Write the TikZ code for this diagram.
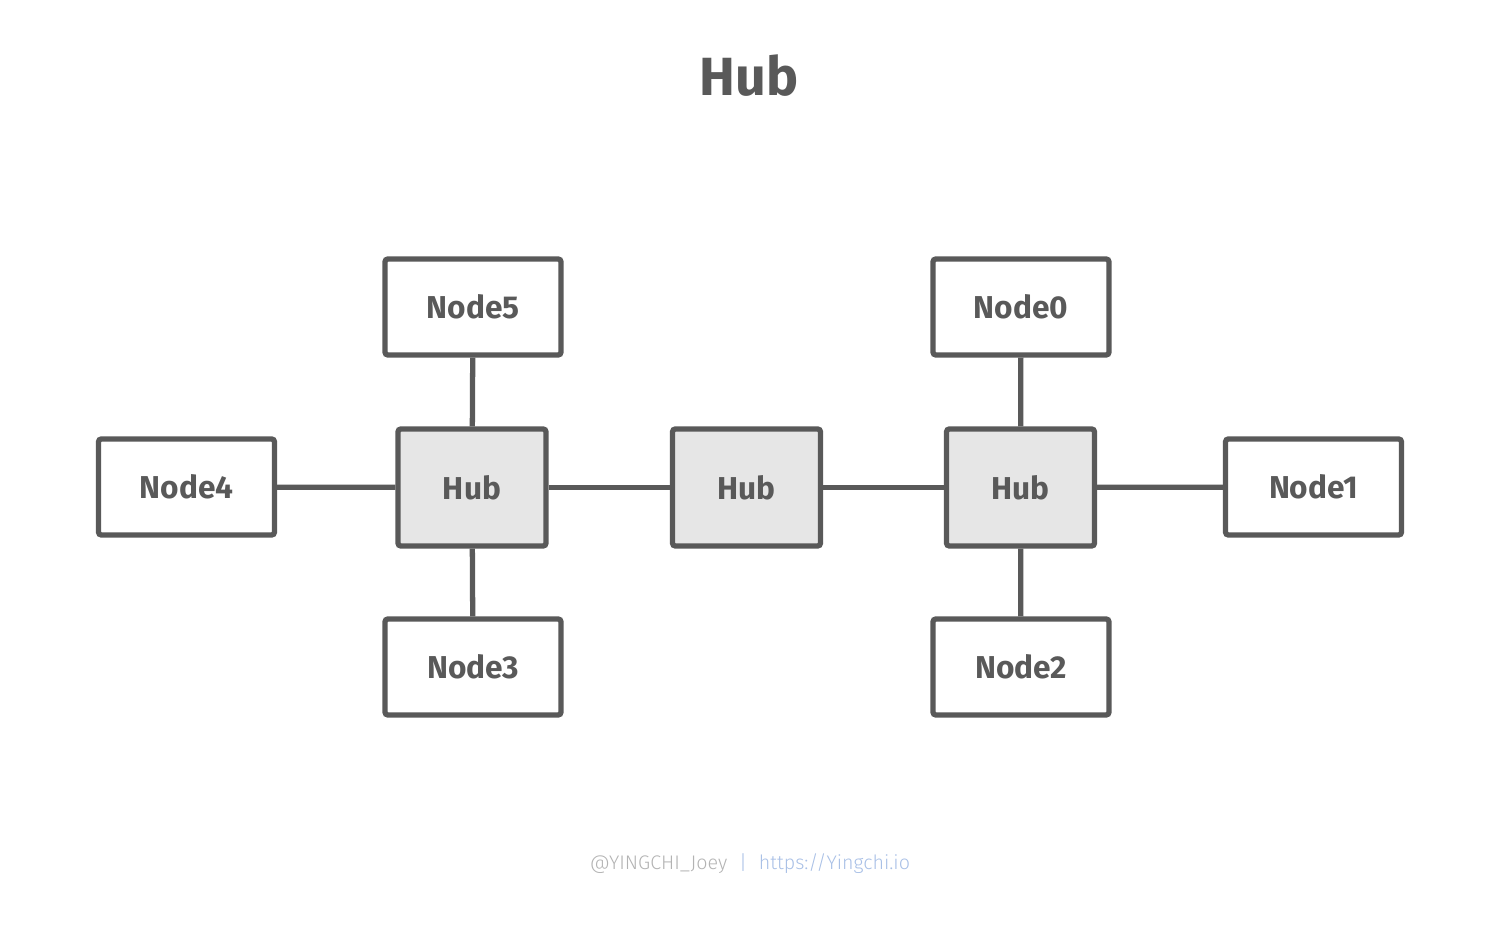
\documentclass[tikz,border=0pt]{standalone}
\usepackage{fontspec}
\setmainfont{Fira Sans}
\newfontfamily\credfont{Fira Sans Light}
\definecolor{boxgray}{HTML}{595959}
\definecolor{hubfill}{HTML}{E6E6E6}
\definecolor{credgray}{HTML}{B3B3B3}
\definecolor{credblue}{HTML}{A9C0E6}
\begin{document}
\begin{tikzpicture}[
        nodebox/.style={draw=boxgray, line width=1.5pt, rounded corners=0.8pt, fill=white,
            minimum width=1.76cm, minimum height=0.96cm, text=boxgray, font=\fontsize{9}{11}\selectfont\bfseries},
        hubbox/.style={nodebox, fill=hubfill, minimum width=1.48cm, minimum height=1.17cm},
        link/.style={draw=boxgray, line width=1.5pt}
    ]
        \useasboundingbox (0,0) rectangle (15,9.38);

        \node[text=boxgray, font=\fontsize{15.3}{18}\selectfont\bfseries] (title) at (7.49,8.62) {Hub};

        \node[hubbox] (hubL) at (4.72,4.505) {Hub};
        \node[hubbox] (hubM) at (7.465,4.505) {Hub};
        \node[hubbox] (hubR) at (10.205,4.505) {Hub};

        \node[nodebox] (node5) at (4.73,6.31) {Node5};
        \node[nodebox] (node4) at (1.865,4.51) {Node4};
        \node[nodebox] (node3) at (4.73,2.71) {Node3};
        \node[nodebox] (node0) at (10.21,6.31) {Node0};
        \node[nodebox] (node1) at (13.135,4.51) {Node1};
        \node[nodebox] (node2) at (10.21,2.71) {Node2};

        \draw[link] (hubL) -- (hubM);
        \draw[link] (hubM) -- (hubR);
        \draw[link] (node4) -- (hubL);
        \draw[link] (node5) -- (hubL);
        \draw[link] (node3) -- (hubL);
        \draw[link] (hubR) -- (node1);
        \draw[link] (node0) -- (hubR);
        \draw[link] (node2) -- (hubR);

        % credit line
        \node[font=\credfont\fontsize{5.6}{7}\selectfont] (credit) at (7.5,0.74)
            {\textcolor{credgray}{@YINGCHI\_Joey}\hspace{0.6em}\textcolor{credblue}{|}\hspace{0.6em}\textcolor{credblue}{https://Yingchi.io}};
    \end{tikzpicture}
\end{document}
